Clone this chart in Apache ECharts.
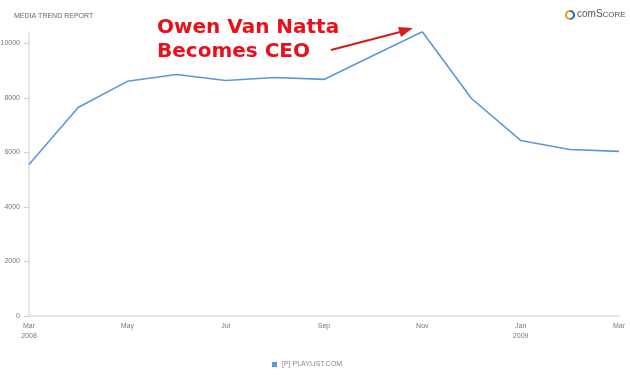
<!DOCTYPE html>
<html>
<head>
<meta charset="utf-8">
<script src="https://cdn.jsdelivr.net/npm/echarts@6/dist/echarts.min.js"></script>
<style>
  html, body { margin: 0; padding: 0; background: #fff; }
  #main { width: 630px; height: 376px; }
</style>
</head>
<body>
<div id="main"></div>
<script>
// monthly values, Mar 2008 .. Mar 2009
var months = ['Mar\n2008', 'Apr', 'May', 'Jun', 'Jul', 'Aug', 'Sep', 'Oct', 'Nov', 'Dec', 'Jan\n2009', 'Feb', 'Mar'];
var playlist = [5560, 7650, 8610, 8860, 8640, 8750, 8680, 9560, 10430, 7980, 6440, 6110, 6040];
var seriesName = '[P] PLAYLIST.COM';

var myChart = echarts.init(document.getElementById('main'));
var option = {
    backgroundColor: '#fff',
    animation: false,
    title: {
        text: 'MEDIA TREND REPORT',
        left: 9, top: 8,
        textStyle: { fontSize: 7, fontWeight: 'normal', color: '#666', fontFamily: 'Arial' }
    },
    legend: {
        top: 356, left: 267,
        itemWidth: 5, itemHeight: 5, itemGap: 6,
        icon: 'rect',
        textStyle: { fontSize: 7, color: '#888', fontFamily: 'Arial' },
        data: [seriesName]
    },
    grid: { left: 29, right: 11, top: 32, bottom: 60, outerBoundsMode: 'none', containLabel: false },
    xAxis: {
        type: 'category',
        data: months,
        boundaryGap: false,
        axisLine: { lineStyle: { color: '#ddd', width: 1.5 } },
        axisTick: { show: false },
        axisLabel: {
            interval: 1,
            color: '#777', fontSize: 7, fontFamily: 'Arial', lineHeight: 10,
            margin: 5
        }
    },
    yAxis: {
        type: 'value',
        min: 0, max: 10420, interval: 2000,
        axisLine: { show: true, lineStyle: { color: '#ddd', width: 1.5 } },
        axisTick: { show: true, length: 5, lineStyle: { color: '#ccc' } },
        splitLine: { show: false },
        axisLabel: {
            showMaxLabel: false, color: '#777', fontSize: 7, fontFamily: 'Arial', margin: 9,
            formatter: function (v) { return String(v); }
        }
    },
    series: [{
        name: seriesName,
        type: 'line',
        data: playlist,
        symbol: 'none',
        lineStyle: { color: '#5b97d2', width: 1.6 },
        itemStyle: { color: '#5b97d2' }
    }],
    graphic: [
        {
            type: 'text', left: 157, top: 16,
            style: {
                text: 'Owen Van Natta\nBecomes CEO',
                fill: '#e8111a',
                font: 'bold 20px "DejaVu Sans"',
                lineHeight: 24
            }
        },
        {
            type: 'line',
            shape: { x1: 331, y1: 50, x2: 400, y2: 32 },
            style: { stroke: '#d81b1b', lineWidth: 2.2 }
        },
        {
            type: 'polygon',
            shape: { points: [[413, 28], [398, 27], [401, 37]] },
            style: { fill: '#d81b1b' }
        },
        {
            type: 'arc',
            shape: { cx: 570, cy: 15, r: 4, startAngle: Math.PI * 0.5, endAngle: Math.PI * 1.5 },
            style: { stroke: '#f29a1f', lineWidth: 2.2, fill: null }
        },
        {
            type: 'arc',
            shape: { cx: 570, cy: 15, r: 4, startAngle: -Math.PI * 0.5, endAngle: Math.PI * 0.5 },
            style: { stroke: '#2d6db5', lineWidth: 2.2, fill: null }
        },
        {
            type: 'text', left: 577, top: 9,
            style: {
                text: '{a|com}{a|S}{b|CORE}',
                rich: {
                    a: { fontSize: 10, fill: '#555', fontFamily: 'Liberation Sans' },
                    b: { fontSize: 8, fill: '#555', fontFamily: 'Liberation Sans', verticalAlign: 'bottom' }
                }
            }
        }
    ]
};
myChart.setOption(option);
</script>
</body>
</html>
